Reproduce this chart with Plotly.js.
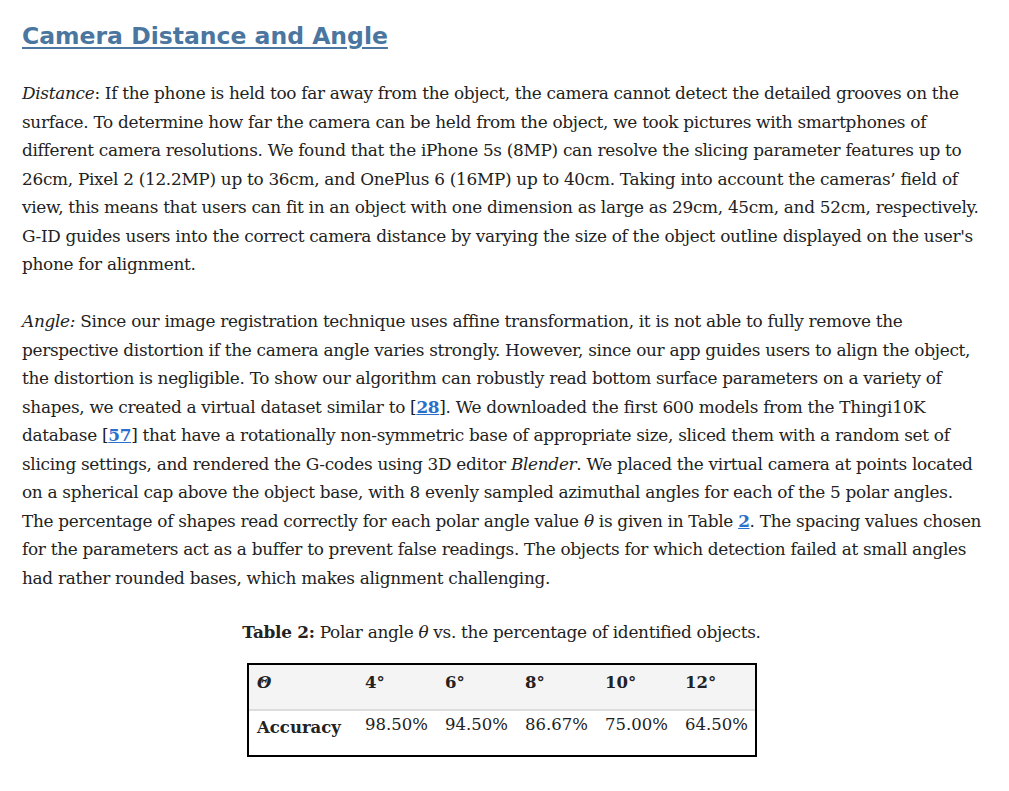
<!DOCTYPE html>
<html>
<head>
<meta charset="utf-8">
<script src="https://cdn.plot.ly/plotly-3.0.1.min.js"></script>
<style>
  body { margin: 0; background: #fff; width: 1009px; height: 791px; overflow: hidden; }
  h2 { position: absolute; left: 22px; top: 22px; margin: 0; font: bold 23.5px "DejaVu Sans", sans-serif;
       color: #4a76a0; text-decoration: underline; text-underline-offset: 3px; }
  .p { position: absolute; left: 22px; font: 16.9px/28.5px "DejaVu Serif", serif; color: #222; white-space: nowrap; letter-spacing: -0.3px; }
  .p a { color: #2a6fc9; font-weight: bold; text-decoration: underline; }
  #cap { position: absolute; left: 0; width: 1003px; top: 622px; text-align: center; font: 16.9px "DejaVu Serif", serif; color: #222; letter-spacing: -0.3px; }
  #tbl { position: absolute; left: 247px; top: 663px; width: 506px; height: 90px; border: 2px solid #000; }
</style>
</head>
<body>
<h2>Camera Distance and Angle</h2>
<div class="p" style="top:79px">
<i>Distance</i>: If the phone is held too far away from the object, the camera cannot detect the detailed grooves on the<br>
surface. To determine how far the camera can be held from the object, we took pictures with smartphones of<br>
different camera resolutions. We found that the iPhone 5s (8MP) can resolve the slicing parameter features up to<br>
26cm, Pixel 2 (12.2MP) up to 36cm, and OnePlus 6 (16MP) up to 40cm. Taking into account the cameras’ field of<br>
view, this means that users can fit in an object with one dimension as large as 29cm, 45cm, and 52cm, respectively.<br>
G-ID guides users into the correct camera distance by varying the size of the object outline displayed on the user's<br>
phone for alignment.
</div>
<div class="p" style="top:307px">
<i>Angle:</i> Since our image registration technique uses affine transformation, it is not able to fully remove the<br>
perspective distortion if the camera angle varies strongly. However, since our app guides users to align the object,<br>
the distortion is negligible. To show our algorithm can robustly read bottom surface parameters on a variety of<br>
shapes, we created a virtual dataset similar to [<a>28</a>]. We downloaded the first 600 models from the Thingi10K<br>
database [<a>57</a>] that have a rotationally non-symmetric base of appropriate size, sliced them with a random set of<br>
slicing settings, and rendered the G-codes using 3D editor <i>Blender</i>. We placed the virtual camera at points located<br>
on a spherical cap above the object base, with 8 evenly sampled azimuthal angles for each of the 5 polar angles.<br>
The percentage of shapes read correctly for each polar angle value <i>θ</i> is given in Table <a>2</a>. The spacing values chosen<br>
for the parameters act as a buffer to prevent false readings. The objects for which detection failed at small angles<br>
had rather rounded bases, which makes alignment challenging.
</div>
<div id="cap"><b>Table 2:</b> Polar angle <i>θ</i> vs. the percentage of identified objects.</div>
<div id="tbl"></div>
<script>
const angles = ['4°', '6°', '8°', '10°', '12°'];
const accuracy = ['98.50%', '94.50%', '86.67%', '75.00%', '64.50%'];
const rowLabels = ['<b><i>Θ</i></b>', '<b>Accuracy</b>'];

const columns = [rowLabels].concat(angles.map((a, i) => ['<b>' + a + '</b>', accuracy[i]]));

const trace = {
  type: 'table',
  columnwidth: [108, 80, 80, 80, 80, 78],
  header: { values: columns.map(() => ''), height: 0, line: { width: 0 }, fill: { color: 'white' } },
  cells: {
    values: columns,
    align: 'left',
    height: 45,
    fill: { color: [['#f4f4f4', '#ffffff']] },
    line: { color: 'rgba(0,0,0,0)', width: 0 },
    font: { family: 'DejaVu Serif, serif', size: 16.5, color: '#222' }
  }
};

const layout = {
  width: 506, height: 90,
  margin: { t: 0, r: 0, b: 0, l: 0 },
  paper_bgcolor: 'white',
  shapes: [{ type: 'line', xref: 'paper', yref: 'paper', x0: 0, x1: 1, y0: 0.5, y1: 0.5, line: { color: '#ddd', width: 2 } }]
};

Plotly.newPlot('tbl', [trace], layout, { displayModeBar: false, staticPlot: true });
</script>
</body>
</html>
